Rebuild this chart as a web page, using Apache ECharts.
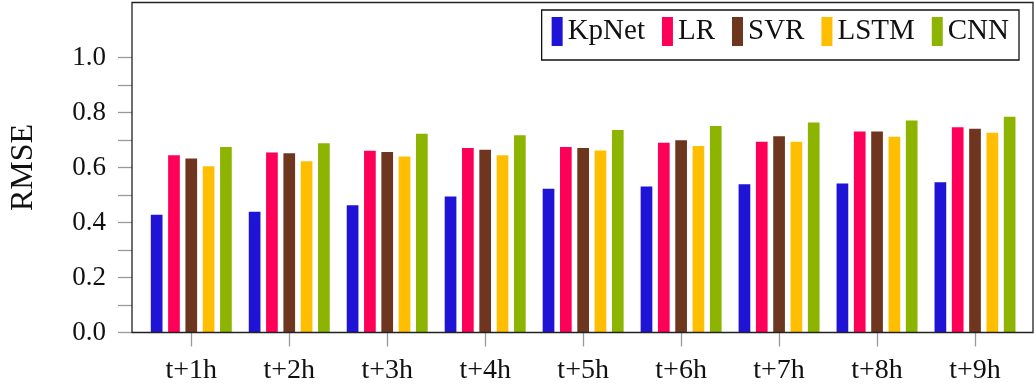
<!DOCTYPE html>
<html>
<head>
<meta charset="utf-8">
<script src="https://cdn.jsdelivr.net/npm/echarts@6/dist/echarts.min.js"></script>
<style>html,body{margin:0;padding:0;background:#fff}#c{width:1034px;height:389px}</style>
</head>
<body>
<div id="c"></div>
<script>
const categories = ['t+1h','t+2h','t+3h','t+4h','t+5h','t+6h','t+7h','t+8h','t+9h'];
const seriesNames = ['KpNet','LR','SVR','LSTM','CNN'];
const kpnet = [0.428,0.439,0.463,0.495,0.523,0.531,0.539,0.542,0.546];
const lr    = [0.645,0.655,0.661,0.671,0.675,0.690,0.694,0.731,0.746];
const svr   = [0.633,0.652,0.656,0.665,0.671,0.699,0.714,0.731,0.741];
const lstm  = [0.605,0.623,0.640,0.645,0.662,0.678,0.694,0.712,0.726];
const cnn   = [0.675,0.688,0.723,0.717,0.736,0.751,0.764,0.771,0.785];
const yLabelValues = [0,0.2,0.4,0.6,0.8,1.0];
const yTickValues = [0,0.1,0.2,0.3,0.4,0.5,0.6,0.7,0.8,0.9,1.0];
const colors = ['#1f13d6','#ff0059','#6e361f','#ffbf00','#8cb400'];

const FONT = 'Liberation Serif';
const values = [kpnet, lr, svr, lstm, cnn];
const chart = echarts.init(document.getElementById('c'), null, {renderer:'canvas'});
chart.setOption({
  animation: false,
  backgroundColor: '#fff',
  color: colors,
  grid: [
    {left: 128.5, right: 1, top: 2.5, bottom: 56.5, show: true, borderColor: '#222', borderWidth: 1.3, backgroundColor: 'transparent', z: 5},
    {left: 142.3, right: 10, top: 2.5, bottom: 56.5}
  ],
  legend: {
    data: seriesNames,
    right: 15, top: 10,
    icon: 'rect',
    itemWidth: 11, itemHeight: 29, itemGap: 17,
    padding: [7, 10, 14, 10],
    borderColor: '#111', borderWidth: 1.3,
    textStyle: {fontFamily: FONT, fontSize: 29, color: '#111'}
  },
  xAxis: [
    {type: 'value', gridIndex: 0, min: 0, max: 1, show: false},
    {type: 'category', gridIndex: 1, data: categories,
     axisLine: {show: false},
     axisTick: {show: true, alignWithLabel: true, length: 14, lineStyle: {color: '#999', width: 1.3}},
     axisLabel: {fontFamily: FONT, fontSize: 28, color: '#111', margin: 24}}
  ],
  yAxis: [
    {type: 'value', gridIndex: 0, min: 0, max: 1.2, interval: 0.1,
     name: 'RMSE', nameLocation: 'middle', nameGap: 92, nameRotate: 90,
     nameTextStyle: {fontFamily: FONT, fontSize: 32, color: '#111'},
     axisLine: {show: false},
     splitLine: {show: false},
     axisTick: {show: true, length: 14, customValues: yTickValues, lineStyle: {color: '#999', width: 1.3}},
     axisLabel: {fontFamily: FONT, fontSize: 27, color: '#111', margin: 26, customValues: yLabelValues,
                 formatter: v => v.toFixed(1)}},
    {type: 'value', gridIndex: 1, min: 0, max: 1.2, show: false, splitLine: {show: false}}
  ],
  series: seriesNames.map((n, i) => ({
    name: n, type: 'bar', xAxisIndex: 1, yAxisIndex: 1,
    data: values[i], barWidth: 11.7, barGap: '48%',
    itemStyle: {color: colors[i]}
  }))
});
</script>
</body>
</html>
